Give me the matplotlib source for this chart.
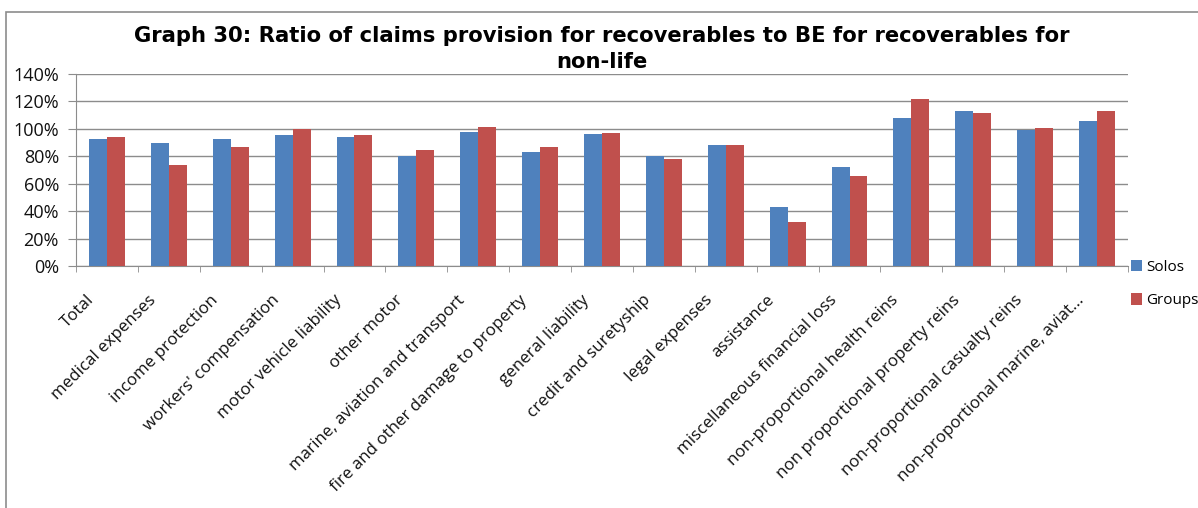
import matplotlib
matplotlib.use("Agg")
import matplotlib.pyplot as plt
import matplotlib.transforms as mtransforms
from matplotlib.patches import Rectangle
import numpy as np

categories = ["Total", "medical expenses", "income protection", "workers' compensation",
              "motor vehicle liability", "other motor", "marine, aviation and transport",
              "fire and other damage to property", "general liability", "credit and suretyship",
              "legal expenses", "assistance", "miscellaneous financial loss",
              "non-proportional health reins", "non proportional property reins",
              "non-proportional casualty reins", "non-proportional marine, aviat..."]
solos = [92.7, 89.8, 92.7, 95.6, 94.2, 80.1, 97.8, 83.3, 96.4, 79.9, 88.3, 43.2, 72.3, 108.0, 113.1, 99.3, 105.8]
groups = [94.2, 73.8, 86.9, 100.0, 95.6, 84.7, 101.5, 86.9, 97.1, 78.2, 88.3, 32.3, 65.8, 121.8, 111.7, 100.7, 113.1]
yticks = [0, 20, 40, 60, 80, 100, 120, 140]

BLUE = "#4F81BD"
RED = "#C0504D"
GRID = "#8c8c8c"

plt.rcParams['font.family'] = ['Open Sans', 'DejaVu Sans']

fig = plt.figure(figsize=(11.98, 5.08), dpi=100)
fig.patches.append(Rectangle((6/1198, -0.05), 1.2, 1 - 12/508 + 0.05, transform=fig.transFigure,
                             fill=False, edgecolor="#8c8c8c", linewidth=1.2))

ax = fig.add_axes([76/1198, 1 - 266/508, (1128 - 76)/1198, (266 - 74)/508])
x = np.arange(len(categories))
w = 0.29
ax.bar(x - w/2, solos, width=w, color=BLUE, label="Solos", zorder=3)
ax.bar(x + w/2, groups, width=w, color=RED, label="Groups", zorder=3)

ax.set_xlim(-0.5, len(categories) - 0.5)
ax.set_ylim(0, 140)
ax.set_yticks(yticks)
ax.set_yticklabels([f"{v}%" for v in yticks], fontsize=13, color="#111111")
ax.yaxis.grid(True, color=GRID, linewidth=1.0, zorder=0)
ax.set_axisbelow(True)

ax.set_xticks(x)
ax.set_xticklabels(categories, rotation=45, ha="right", va="top", rotation_mode="anchor",
                   fontsize=12.2, color="#111111")
ax.tick_params(axis="x", which="major", length=0, pad=8)
ax.set_xticks(np.arange(-0.5, len(categories)), minor=True)
ax.tick_params(axis="x", which="minor", length=4.3, color=GRID, direction="out")
ax.tick_params(axis="y", length=5.8, color=GRID, direction="out", pad=6.5)
off = mtransforms.ScaledTranslation(-21/100, -15/100, fig.dpi_scale_trans)
for lbl in ax.get_xticklabels():
    lbl.set_transform(lbl.get_transform() + off)

for s in ["top", "right"]:
    ax.spines[s].set_visible(False)
ax.spines["left"].set_color(GRID)
ax.spines["bottom"].set_color(GRID)

fig.text(601.5/1198, 1 - 36/508, "Graph 30: Ratio of claims provision for recoverables to BE for recoverables for",
         ha="center", va="center", fontsize=15.2, fontweight="bold", family=["DejaVu Sans"])
fig.text(601.5/1198, 1 - 62/508, "non-life",
         ha="center", va="center", fontsize=15.2, fontweight="bold", family=["DejaVu Sans"])

leg = fig.legend(loc="upper left", bbox_to_anchor=(1131/1198, 1 - 260/508), frameon=False,
                 fontsize=11, handlelength=0.75, handleheight=0.75, handletextpad=0.25,
                 labelspacing=1.2, borderaxespad=0, borderpad=0)

fig.savefig("out.png", dpi=100)
